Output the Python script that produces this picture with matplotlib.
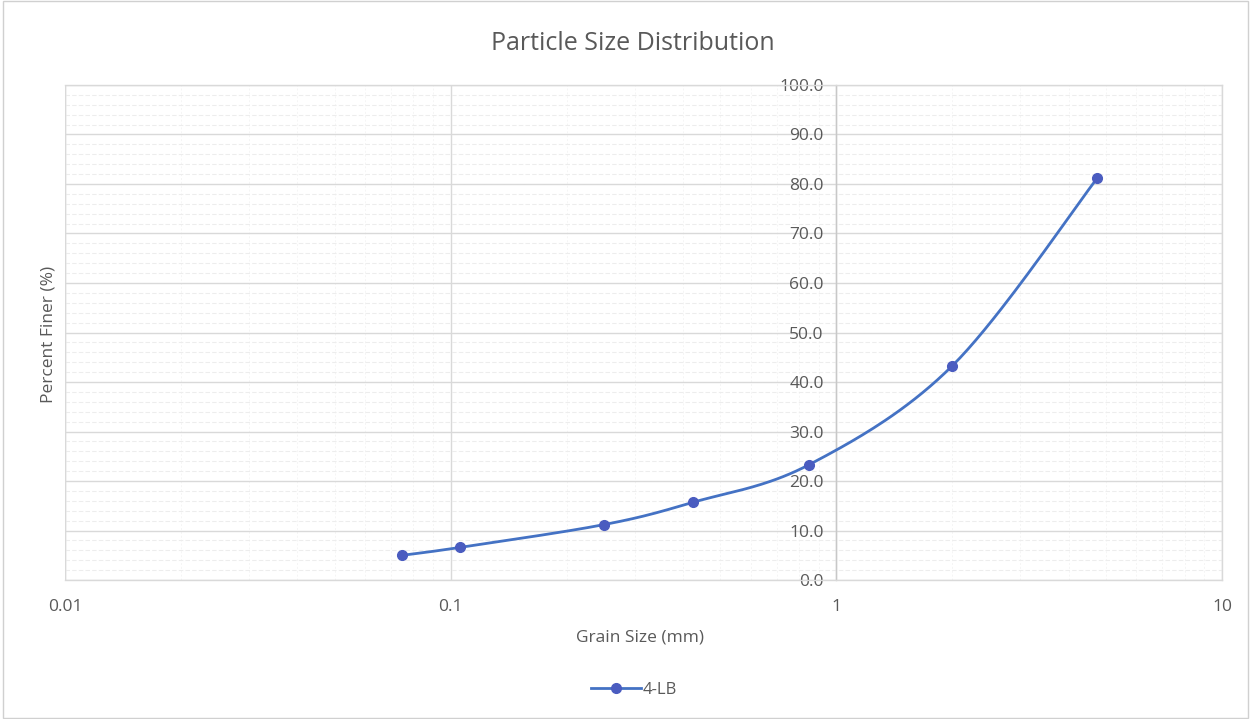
import numpy as np
import matplotlib
matplotlib.use("Agg")
import matplotlib.pyplot as plt
from matplotlib.ticker import FixedLocator, NullFormatter, FuncFormatter
from matplotlib.patches import Rectangle
from matplotlib.lines import Line2D

plt.rcParams['font.family'] = ['Open Sans', 'DejaVu Sans']

# Sieve analysis results
grain_size_mm = [0.075, 0.106, 0.25, 0.425, 0.85, 2.0, 4.75]
percent_finer = [5.0, 6.6, 11.2, 15.7, 23.3, 43.3, 81.2]
series_name = "4-LB"
x_ticks = [0.01, 0.1, 1, 10]
x_tick_labels = ["0.01", "0.1", "1", "10"]
y_ticks = [0, 10, 20, 30, 40, 50, 60, 70, 80, 90, 100]

TEXT = "#595959"
LINE = "#4472C4"
MARK = "#4A5CC0"
FS = 12.5

fig = plt.figure(figsize=(12.5, 7.19), dpi=100)
fig.patches.append(Rectangle((0.002, 0.002), 0.996, 0.996, transform=fig.transFigure,
                             fill=False, edgecolor="#d0d0d0", linewidth=1.0))
ax = fig.add_axes([0.052, 0.1933, 0.9256, 0.6885])

ax.set_xscale("log")
ax.set_xlim(0.01, 10)
ax.set_ylim(0, 100)

# Smooth curve: Catmull-Rom Bezier segments computed in screen-proportional space
fig.canvas.draw()
bbox = ax.get_window_extent()
sx = bbox.width / 3.0
sy = bbox.height / 100.0
u = np.log10(grain_size_mm) * sx
v = np.array(percent_finer) * sy
P = np.column_stack([u, v])
n = len(P)
curve = []
for i in range(n - 1):
    p0 = P[i - 1] if i > 0 else P[i]
    p1 = P[i]
    p2 = P[i + 1]
    p3 = P[i + 2] if i + 2 < n else P[i + 1]
    c1 = p1 + (p2 - p0) / 6.0
    c2 = p2 - (p3 - p1) / 6.0
    t = np.linspace(0, 1, 40)[:, None]
    seg = ((1 - t) ** 3) * p1 + 3 * ((1 - t) ** 2) * t * c1 + 3 * (1 - t) * t ** 2 * c2 + t ** 3 * p2
    curve.append(seg if i == 0 else seg[1:])
curve = np.vstack(curve)
cx = 10 ** (curve[:, 0] / sx)
cy = curve[:, 1] / sy

ax.plot(cx, cy, color=LINE, linewidth=2.0, zorder=3, solid_capstyle="round")
ax.plot(grain_size_mm, percent_finer, linestyle="none", marker="o", markersize=7,
        color=MARK, zorder=4)

# Grid
ax.xaxis.set_major_locator(FixedLocator(x_ticks))
ax.xaxis.set_major_formatter(NullFormatter())
minor_x = [m * 10.0 ** d for d in (-2, -1, 0) for m in range(2, 10)]
ax.xaxis.set_minor_locator(FixedLocator(minor_x))
ax.xaxis.set_minor_formatter(NullFormatter())
ax.yaxis.set_major_locator(FixedLocator(y_ticks))
ax.yaxis.set_minor_locator(FixedLocator([v for v in range(0, 101, 2) if v % 10]))
ax.grid(True, which="major", color="#d9d9d9", linewidth=1.0, zorder=0)
ax.grid(True, which="minor", axis="y", color="#ededed", linewidth=0.8, linestyle=(0, (4, 2)), zorder=0)
ax.grid(True, which="minor", axis="x", color="#f5f5f5", linewidth=0.7, linestyle=(0, (2, 2)), zorder=0)
ax.set_axisbelow(True)

for side in ("top", "right", "bottom"):
    ax.spines[side].set_color("#d9d9d9")
    ax.spines[side].set_linewidth(1.0)
ax.spines["left"].set_position(("data", 1))
ax.spines["left"].set_color("#c8c8c8")
ax.spines["left"].set_linewidth(1.0)
# outer frame on the left of plot area
ax.axvline(0.01, color="#d9d9d9", linewidth=1.0, zorder=1)

ax.tick_params(axis="both", which="both", length=0)
ax.yaxis.set_major_formatter(FuncFormatter(lambda val, pos: f"{val:.1f}"))
ax.tick_params(axis="y", labelsize=FS, labelcolor=TEXT, pad=9)

for xv, lab in zip(x_ticks, x_tick_labels):
    ax.text(xv, -3.8, lab, ha="center", va="top", fontsize=FS, color=TEXT,
            transform=ax.transData, clip_on=False)

fig.text(0.506, 0.940, "Particle Size Distribution", ha="center", va="center",
         fontsize=18, color=TEXT)
fig.text(0.512, 0.114, "Grain Size (mm)", ha="center", va="center", fontsize=FS, color=TEXT)
fig.text(0.039, 0.535, "Percent Finer (%)", ha="center", va="center", rotation=90,
         fontsize=FS, color=TEXT)

handle = Line2D([], [], color=LINE, linewidth=2.0, marker="o", markersize=7,
                markerfacecolor=MARK, markeredgecolor=MARK)
fig.legend([handle], [series_name], loc="center", bbox_to_anchor=(0.507, 0.040),
           frameon=False, fontsize=12, labelcolor=TEXT, handlelength=3.0, handletextpad=0.1)

fig.savefig("out.png", dpi=100)
